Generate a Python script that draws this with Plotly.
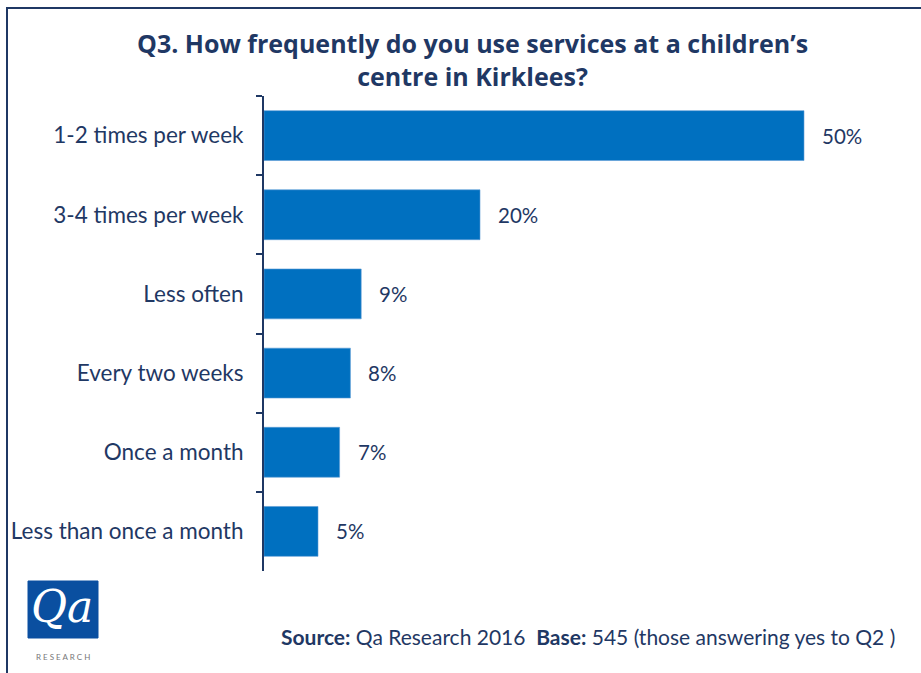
import plotly.graph_objects as go

categories = ["1-2 times per week", "3-4 times per week", "Less often",
              "Every two weeks", "Once a month", "Less than once a month"]
values = [50, 20, 9, 8, 7, 5]
value_labels = ["50%", "20%", "9%", "8%", "7%", "5%"]

NAVY = "#1F3864"
BAR = "#0070C0"
FONT = "Lato"

PW = 636  # plot width px
PH = 475  # plot height px
L0 = 264
T0 = 96

def px(x):
    return (x - L0) / PW

def py(y):
    return 1 - (y - T0) / PH

fig = go.Figure()
fig.add_trace(go.Bar(
    y=categories, x=values, orientation="h",
    marker=dict(color=BAR, line=dict(color="#5B9BD5", width=0.6)),
    hoverinfo="skip",
))

for c, v, t in zip(categories, values, value_labels):
    fig.add_annotation(x=v, y=c, text=t, showarrow=False, xanchor="left",
                       xshift=16, font=dict(family=FONT, size=20.5, color=NAVY))

fig.update_layout(
    width=921, height=673,
    margin=dict(l=264, r=21, t=96, b=102),
    paper_bgcolor="white", plot_bgcolor="white",
    showlegend=False, bargap=0.37,
    xaxis=dict(range=[0, 58.89], visible=False, fixedrange=True),
    yaxis=dict(autorange="reversed", showline=True, linecolor=NAVY, linewidth=2,
               ticks="outside", tickson="boundaries", ticklen=6, tickcolor=NAVY,
               tickwidth=2, ticklabelstandoff=14,
               tickfont=dict(family=FONT, size=22.5, color=NAVY), showgrid=False),
)

# title
fig.add_annotation(xref="paper", yref="paper", x=px(472), y=py(60),
                   text="<b>Q3. How frequently do you use services at a children’s<br>centre in Kirklees?</b>",
                   showarrow=False, xanchor="center", yanchor="middle", align="center",
                   font=dict(family="Open Sans", size=25, color=NAVY))

# frame
fig.add_shape(type="line", xref="paper", yref="paper", x0=px(6), x1=px(930), y0=py(8), y1=py(8),
              line=dict(color=NAVY, width=2))
fig.add_shape(type="line", xref="paper", yref="paper", x0=px(7), x1=px(7), y0=py(8), y1=py(680),
              line=dict(color=NAVY, width=2))

# logo
fig.add_shape(type="rect", xref="paper", yref="paper",
              x0=px(28), x1=px(98), y0=py(638), y1=py(581),
              fillcolor="#0A4FA0", line=dict(color="#0A4FA0", width=1))
fig.add_annotation(xref="paper", yref="paper", x=px(62), y=py(606),
                   text="<i>Qa</i>", showarrow=False, xanchor="center", yanchor="middle",
                   font=dict(family="DejaVu Serif", size=44, color="white"))
fig.add_annotation(xref="paper", yref="paper", x=px(63), y=py(657),
                   text="R E S E A R C H", showarrow=False, xanchor="center", yanchor="middle",
                   font=dict(family=FONT, size=8, color="#777777"))

fig.add_annotation(xref="paper", yref="paper", x=px(897), y=py(636),
                   text="<b>Source:</b> Qa Research 2016  <b>Base:</b> 545 (those answering yes to Q2 )",
                   showarrow=False, xanchor="right", yanchor="middle",
                   font=dict(family=FONT, size=21, color=NAVY))

fig.write_html("out.html")
